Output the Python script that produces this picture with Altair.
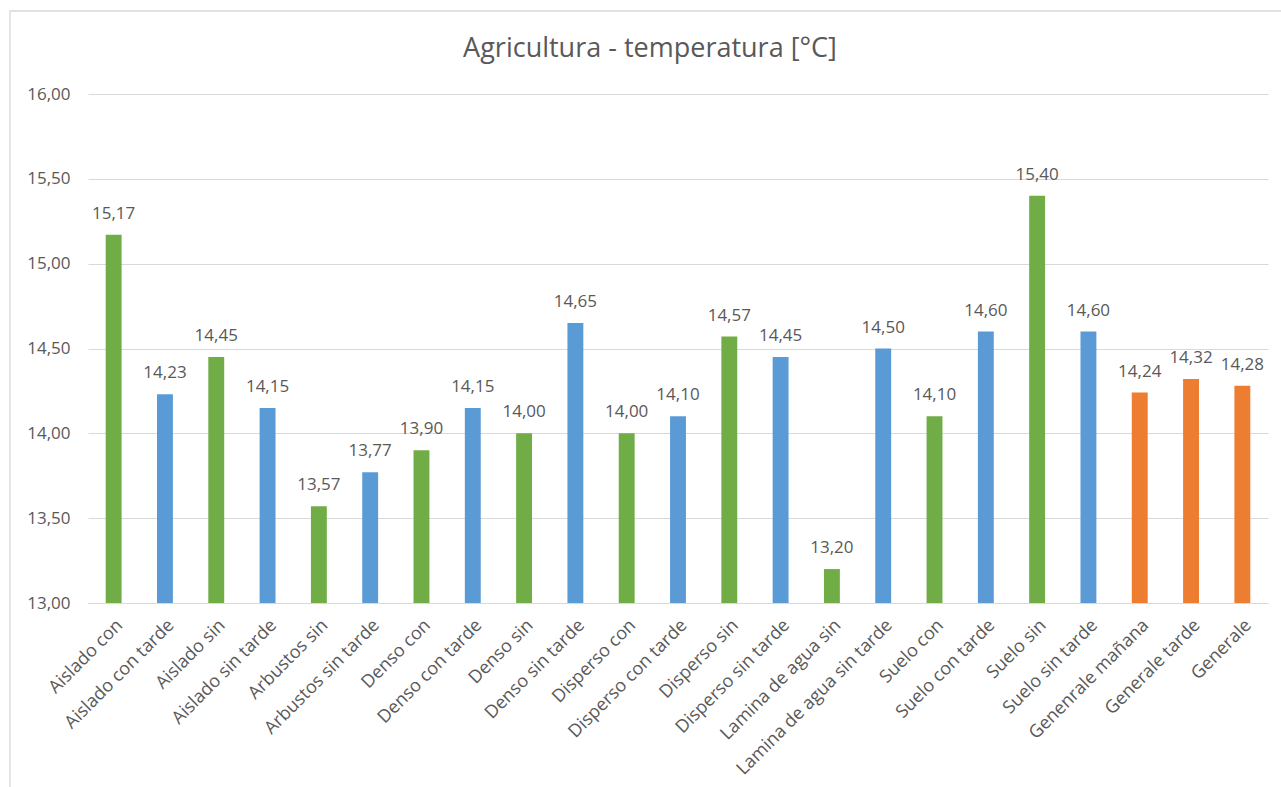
import altair as alt
import pandas as pd

# Mean temperature per site / condition
categories = [
    "Aislado con", "Aislado con tarde", "Aislado sin", "Aislado sin tarde",
    "Arbustos sin", "Arbustos sin tarde", "Denso con", "Denso con tarde",
    "Denso sin", "Denso sin tarde", "Disperso con", "Disperso con tarde",
    "Disperso sin", "Disperso sin tarde", "Lamina de agua sin",
    "Lamina de agua sin tarde", "Suelo con", "Suelo con tarde", "Suelo sin",
    "Suelo sin tarde", "Genenrale mañana", "Generale tarde", "Generale",
]
values = [
    15.17, 14.23, 14.45, 14.15, 13.57, 13.77, 13.90, 14.15, 14.00, 14.65,
    14.00, 14.10, 14.57, 14.45, 13.20, 14.50, 14.10, 14.60, 15.40, 14.60,
    14.24, 14.32, 14.28,
]
groups = [
    "mañana", "tarde", "mañana", "tarde", "mañana", "tarde", "mañana", "tarde",
    "mañana", "tarde", "mañana", "tarde", "mañana", "tarde", "mañana", "tarde",
    "mañana", "tarde", "mañana", "tarde", "general", "general", "general",
]

group_names = ["mañana", "tarde", "general"]
group_colors = ["#70AD47", "#5B9BD5", "#ED7D31"]

chart_title = "Agricultura - temperatura [°C]"

df = pd.DataFrame({"cat": categories, "temp": values, "grupo": groups})

FONT = "Open Sans"
GREY = "#595959"
GRID = "#D9D9D9"

x_enc = alt.X(
    "cat:N",
    sort=categories,
    title=None,
    scale=alt.Scale(paddingInner=0.69, paddingOuter=0.345),
    axis=alt.Axis(
        labelAngle=-45,
        labelFont=FONT,
        labelFontSize=18,
        labelColor=GREY,
        labelPadding=13,
        labelLimit=400,
        ticks=False,
        domain=True,
        domainColor=GRID,
        grid=False,
        labelOverlap=False,
    ),
)
y_scale = alt.Scale(domain=[13, 16], zero=False, nice=False)

bars = alt.Chart(df).mark_bar().encode(
    x=x_enc,
    y=alt.Y(
        "temp:Q",
        scale=y_scale,
        title=None,
        axis=alt.Axis(
            values=[13, 13.5, 14, 14.5, 15, 15.5, 16],
            labelExpr="replace(format(datum.value, '.2f'), '.', ',')",
            labelFont=FONT,
            labelFontSize=17,
            labelColor=GREY,
            labelPadding=18,
            ticks=False,
            domain=False,
            gridColor=GRID,
            gridWidth=1.2,
        ),
    ),
    y2=alt.datum(13),
    color=alt.Color(
        "grupo:N",
        scale=alt.Scale(domain=group_names, range=group_colors),
        legend=None,
    ),
)

labels = alt.Chart(df).transform_calculate(
    txt="replace(format(datum.temp, '.2f'), '.', ',')"
).mark_text(
    font=FONT, fontSize=17, color=GREY, baseline="alphabetic", dy=-16
).encode(
    x=alt.X("cat:N", sort=categories),
    y=alt.Y("temp:Q", scale=y_scale),
    text="txt:N",
)

# Outer chart frame
frame = alt.Chart(pd.DataFrame({"k": [0]})).mark_rect(
    fill="transparent", stroke=GRID, strokeWidth=1.3
).encode(
    x=alt.value(-78),
    x2=alt.value(1210),
    y=alt.value(-83),
    y2=alt.value(720),
)

# Chart heading, centred over the whole frame
heading = alt.Chart(pd.DataFrame({"t": [chart_title]})).mark_text(
    font=FONT, fontSize=27, color=GREY, align="center", baseline="alphabetic"
).encode(
    x=alt.value(562),
    y=alt.value(-37),
    text="t:N",
)

chart = (
    alt.layer(frame, bars, labels, heading)
    .properties(
        width=1180,
        height=509,
        autosize=alt.AutoSizeParams(type="none"),
        padding={"left": 88, "top": 94, "right": 13, "bottom": 184},
        background="white",
    )
    .configure_view(stroke="transparent", strokeWidth=0)
)

chart.save("out.html", embed_options={"renderer": "svg", "actions": False})
